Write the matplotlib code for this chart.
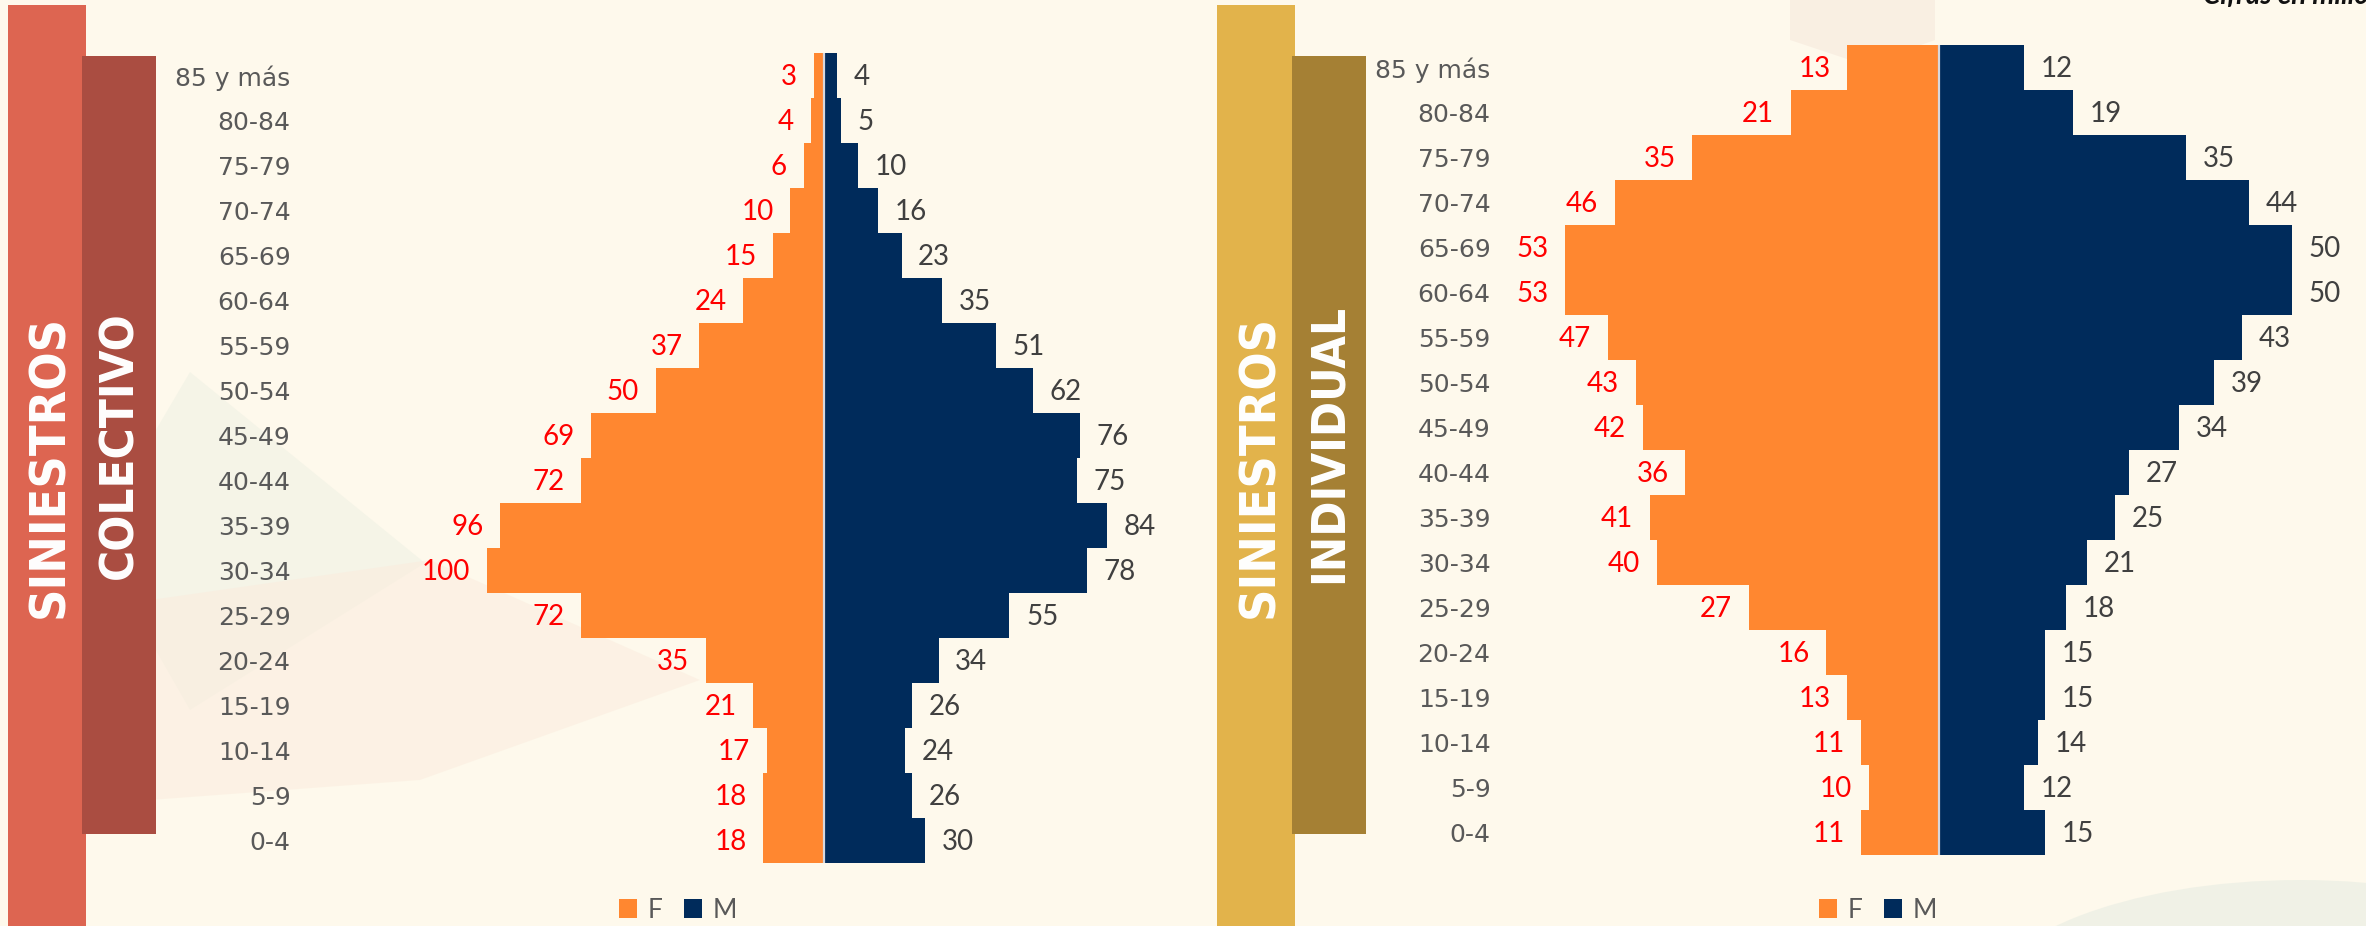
import numpy as np
import matplotlib
matplotlib.use("Agg")
import matplotlib.pyplot as plt
from matplotlib.patches import Rectangle, Polygon, Ellipse

# age groups, bottom to top
ages = ["0-4", "5-9", "10-14", "15-19", "20-24", "25-29", "30-34", "35-39", "40-44",
        "45-49", "50-54", "55-59", "60-64", "65-69", "70-74", "75-79", "80-84", "85 y más"]

# siniestros colectivo
col_f = [18, 18, 17, 21, 35, 72, 100, 96, 72, 69, 50, 37, 24, 15, 10, 6, 4, 3]
col_m = [30, 26, 24, 26, 34, 55, 78, 84, 75, 76, 62, 51, 35, 23, 16, 10, 5, 4]

# siniestros individual
ind_f = [11, 10, 11, 13, 16, 27, 40, 41, 36, 42, 43, 47, 53, 53, 46, 35, 21, 13]
ind_m = [15, 12, 14, 15, 15, 18, 21, 25, 27, 34, 39, 43, 50, 50, 44, 35, 19, 12]

W, H = 2366, 926
BG = "#FEF9EC"
ORANGE = "#FF8730"
NAVY = "#002B5B"

fig = plt.figure(figsize=(W / 100, H / 100), dpi=100, facecolor=BG)

# background layer in pixel coords (top-left origin)
bg = fig.add_axes((0, 0, 1, 1), zorder=-5)
bg.set_xlim(0, W)
bg.set_ylim(H, 0)
bg.axis("off")

# faint decoration
bg.add_patch(Polygon([(190, 372), (425, 563), (190, 710), (150, 640), (150, 440)],
                     facecolor="#EDF0E3", edgecolor="none", alpha=0.5))
bg.add_patch(Polygon([(150, 600), (430, 560), (700, 680), (420, 780), (150, 800)],
                     facecolor="#FBEBDD", edgecolor="none", alpha=0.5))
bg.add_patch(Polygon([(1790, 0), (1935, 0), (1935, 40), (1865, 65), (1790, 40)],
                     facecolor="#F8EBDF", edgecolor="none", alpha=0.7))
bg.add_patch(Ellipse((2300, 1010), 640, 260, facecolor="#EDF0E5", edgecolor="none", alpha=0.8))

# side bands
bg.add_patch(Rectangle((8, 5), 78, 930, facecolor="#DD6551", edgecolor="none"))
bg.add_patch(Rectangle((82, 56), 74, 778, facecolor="#AA4D41", edgecolor="none"))
bg.add_patch(Rectangle((1217, 5), 78, 930, facecolor="#E2B34B", edgecolor="none"))
bg.add_patch(Rectangle((1292, 56), 74, 778, facecolor="#A58034", edgecolor="none"))

band_font = dict(color="white", fontweight="bold", rotation=90, ha="center", va="center",
                 family="DejaVu Sans", fontstretch="condensed")
bg.text(49, 466, "SINIESTROS", fontsize=36, **band_font)
bg.text(120, 445, "COLECTIVO", fontsize=34, **band_font)
bg.text(1259, 466, "SINIESTROS", fontsize=36, **band_font)
bg.text(1329, 443, "INDIVIDUAL", fontsize=34, **band_font)

fig.text(2203 / W, 1 - 4 / H, "Cifras en millones", fontsize=20, fontweight="bold",
         fontstyle="italic", family="Lato", color="#111111", va="baseline", ha="left")


def box(x0, y0, x1, y1):
    return (x0 / W, 1 - y1 / H, (x1 - x0) / W, (y1 - y0) / H)


def pyramid(rect_px, xlim, f, m, legend_center):
    ax = fig.add_axes(box(*rect_px))
    ax.set_facecolor("none")
    y = np.arange(len(ages))
    bf = ax.barh(y, -np.array(f), height=1.0, color=ORANGE, edgecolor="none", label="F")
    bm = ax.barh(y, m, height=1.0, color=NAVY, edgecolor="none", label="M")
    ax.axvline(0, color="#d6d8de", lw=1.6)
    ax.set_xlim(*xlim)
    ax.set_ylim(-0.5, len(ages) - 0.5)
    ax.set_yticks(y)
    ax.set_yticklabels(ages, fontsize=18, color="#595959", family="DejaVu Sans")
    ax.tick_params(axis="y", length=0, pad=6.8)
    ax.set_xticks([])
    for s in ax.spines.values():
        s.set_visible(False)
    for yi, v in zip(y, f):
        ax.annotate(str(v), (-v, yi), xytext=(-12, -1), textcoords="offset points",
                    ha="right", va="center", fontsize=20, color="#FF0000", family="Lato")
    for yi, v in zip(y, m):
        ax.annotate(str(v), (v, yi), xytext=(12, -1), textcoords="offset points",
                    ha="left", va="center", fontsize=20, color="#404040", family="Lato")
    fig.legend(handles=[bf, bm], labels=["F", "M"], loc="center",
               bbox_to_anchor=(legend_center / W, 1 - 910 / H), ncol=2, frameon=False,
               handlelength=0.7, handleheight=0.7, handletextpad=0.4, columnspacing=0.8,
               prop={"family": "Lato", "size": 19}, labelcolor="#595959")
    return ax


pyramid((300, 53, 1180, 863), (-(824 - 300) / 3.37, (1180 - 824) / 3.37), col_f, col_m, 678)
pyramid((1500, 45, 2366, 855), (-(1939 - 1500) / 7.05, (2366 - 1939) / 7.05), ind_f, ind_m, 1878)

fig.savefig("out.png", dpi=100, facecolor=BG)
